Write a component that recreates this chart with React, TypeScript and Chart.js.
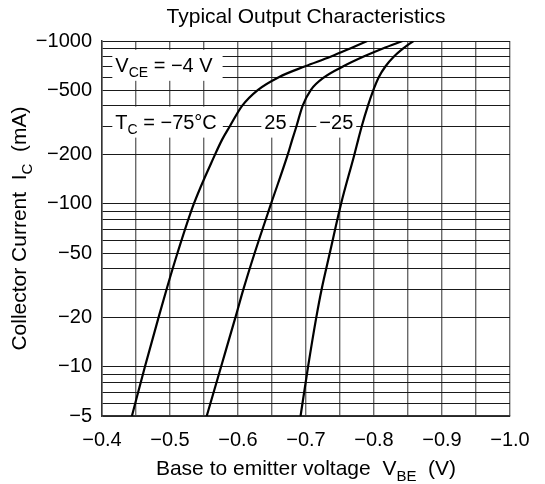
import React, { useEffect, useRef } from "react";
import { Chart, registerables } from "chart.js";

Chart.register(...registerables);

// ---------------- data ----------------
const IC_mA = [-5, -10, -20, -30, -50, -100, -200, -250, -300, -400, -500, -600, -700, -800, -900, -1000];
const VBE_TC_m75 = [-0.444, -0.463, -0.483, -0.495, -0.511, -0.535, -0.566, -0.577, -0.588, -0.606, -0.629, -0.66, -0.699, -0.736, -0.765, -0.79];
const VBE_TC_25 = [-0.554, -0.575, -0.596, -0.608, -0.6245, -0.6485, -0.673, -0.68, -0.686, -0.695, -0.707, -0.727, -0.755, -0.784, -0.813, -0.842];
const VBE_TC_m25 = [-0.692, -0.703, -0.715, -0.723, -0.735, -0.7515, -0.771, -0.777, -0.782, -0.791, -0.799, -0.807, -0.817, -0.829, -0.843, -0.858];

const X_GRID = [-0.4, -0.45, -0.5, -0.55, -0.6, -0.65, -0.7, -0.75, -0.8, -0.85, -0.9, -0.95, -1.0];
const X_LABELED = [-0.4, -0.5, -0.6, -0.7, -0.8, -0.9, -1.0];
const Y_GRID = [5, 6, 7, 8, 9, 10, 20, 30, 40, 50, 60, 70, 80, 90, 100, 200, 300, 400, 500, 600, 700, 800, 900, 1000];
const Y_LABELED = [-5, -10, -20, -50, -100, -200, -500, -1000];

const TITLE = "Typical Output Characteristics";
type Part = { t: string; sub?: boolean };
const X_TITLE: Part[] = [{ t: "Base to emitter voltage  V" }, { t: "BE", sub: true }, { t: "  (V)" }];
const Y_TITLE: Part[] = [{ t: "Collector Current  I" }, { t: "C", sub: true }, { t: "  (mA)" }];

// text labels anchored in data coordinates (left of text, baseline)
const LABELS: { parts: Part[]; x: number; y: number; padR: number }[] = [
  { parts: [{ t: "V" }, { t: "CE", sub: true }, { t: " = \u22124 V" }], x: -0.4196, y: -647, padR: 10 },
  { parts: [{ t: "T" }, { t: "C", sub: true }, { t: " = \u221275\u00B0C" }], x: -0.4196, y: -290, padR: 6 },
  { parts: [{ t: "25" }], x: -0.6387, y: -290, padR: 3 },
  { parts: [{ t: "\u221225" }], x: -0.7196, y: -290, padR: 3 },
];

// ---------------- styling ----------------
const FONT = "'Liberation Sans', Arial, Helvetica, sans-serif";
const TICK_SIZE = 20;
const TITLE_SIZE = 21;

function fmtMinus(v: number, digits: number) {
  return "\u2212" + Math.abs(v).toFixed(digits);
}

function richWidth(ctx: CanvasRenderingContext2D, parts: Part[], size: number) {
  let w = 0;
  for (const p of parts) {
    ctx.font = `${p.sub ? Math.round(size * 0.7) : size}px ${FONT}`;
    w += ctx.measureText(p.t).width;
  }
  return w;
}

function drawRich(ctx: CanvasRenderingContext2D, parts: Part[], x: number, y: number, size: number) {
  ctx.textBaseline = "alphabetic";
  ctx.textAlign = "left";
  ctx.fillStyle = "#000";
  let cx = x;
  for (const p of parts) {
    const s = p.sub ? Math.round(size * 0.7) : size;
    ctx.font = `${s}px ${FONT}`;
    ctx.fillText(p.t, cx, p.sub ? y + size * 0.27 : y);
    cx += ctx.measureText(p.t).width;
  }
}

const textPlugin = {
  id: "textPlugin",
  beforeDatasetsDraw(chart: any) {
    const ctx: CanvasRenderingContext2D = chart.ctx;
    const xs = chart.scales.x;
    const ys = chart.scales.y;
    ctx.save();
    for (const l of LABELS) {
      const x = xs.getPixelForValue(l.x);
      const y = ys.getPixelForValue(Math.abs(l.y));
      const w = richWidth(ctx, l.parts, TICK_SIZE);
      ctx.fillStyle = "#fff";
      ctx.fillRect(x - 3, y - 22, w + 3 + l.padR, 31);
      drawRich(ctx, l.parts, x, y, TICK_SIZE);
    }
    ctx.restore();
  },
  afterDraw(chart: any) {
    const ctx: CanvasRenderingContext2D = chart.ctx;
    const area = chart.chartArea;
    const cx = (area.left + area.right) / 2;
    ctx.save();
    ctx.font = `${TITLE_SIZE}px ${FONT}`;
    ctx.fillStyle = "#000";
    ctx.textAlign = "center";
    ctx.textBaseline = "alphabetic";
    ctx.fillText(TITLE, cx, 23);
    const wx = richWidth(ctx, X_TITLE, TITLE_SIZE);
    drawRich(ctx, X_TITLE, cx - wx / 2, 475, TITLE_SIZE);
    const cy = (area.top + area.bottom) / 2;
    const wy = richWidth(ctx, Y_TITLE, TITLE_SIZE);
    ctx.translate(26, cy);
    ctx.rotate(-Math.PI / 2);
    drawRich(ctx, Y_TITLE, -wy / 2, 0, TITLE_SIZE);
    ctx.restore();
  },
};

function makeSeries(vbe: number[]) {
  return vbe.map((v, i) => ({ x: v, y: Math.abs(IC_mA[i]) }));
}

export default function App() {
  const ref = useRef<HTMLCanvasElement | null>(null);
  useEffect(() => {
    if (!ref.current) return;
    const ds = (data: number[]) => ({
      data: makeSeries(data),
      showLine: true,
      borderColor: "#000",
      borderWidth: 2.2,
      pointRadius: 0,
      cubicInterpolationMode: "monotone" as const,
      fill: false,
    });
    const chart = new Chart(ref.current, {
      type: "scatter",
      data: { datasets: [ds(VBE_TC_m75), ds(VBE_TC_25), ds(VBE_TC_m25)] },
      options: {
        animation: false,
        responsive: false,
        devicePixelRatio: 1,
        layout: { padding: { top: 41, right: 35, left: 0, bottom: 0 } },
        plugins: { legend: { display: false }, tooltip: { enabled: false }, title: { display: false } },
        scales: {
          x: {
            type: "linear",
            min: -1.0,
            max: -0.4,
            reverse: true,
            afterBuildTicks: (s: any) => {
              s.ticks = X_GRID.map((v) => ({ value: v }));
            },
            afterFit: (s: any) => {
              s.height = 68;
            },
            ticks: {
              autoSkip: false,
              maxRotation: 0,
              minRotation: 0,
              padding: 12,
              color: "#000",
              font: { family: FONT, size: TICK_SIZE },
              callback: (v: any) => {
                const n = Number(v);
                return X_LABELED.some((l) => Math.abs(l - n) < 1e-6) ? fmtMinus(n, 1) : "";
              },
            },
            grid: { color: "#6a6a6a", lineWidth: 1.4, drawTicks: false },
            border: { color: "#333", width: 1.5 },
          },
          y: {
            type: "logarithmic",
            min: 5,
            max: 1000,
            afterBuildTicks: (s: any) => {
              s.ticks = Y_GRID.map((v) => ({ value: v }));
            },
            afterFit: (s: any) => {
              s.width = 102;
            },
            ticks: {
              autoSkip: false,
              padding: 10,
              color: "#000",
              font: { family: FONT, size: TICK_SIZE },
              callback: (v: any) => {
                const n = Number(v);
                return Y_LABELED.some((l) => Math.abs(Math.abs(l) - n) < 1e-6) ? fmtMinus(n, 0) : "";
              },
            },
            grid: { color: "#1a1a1a", lineWidth: 1, drawTicks: false },
            border: { color: "#333", width: 1.5 },
          },
        },
      },
      plugins: [textPlugin],
    });
    return () => chart.destroy();
  }, []);
  return (
    <div style={{ position: "fixed", left: 0, top: 0, width: 545, height: 484, background: "#fff" }}>
      <canvas ref={ref} width={545} height={484} style={{ display: "block" }} />
    </div>
  );
}
